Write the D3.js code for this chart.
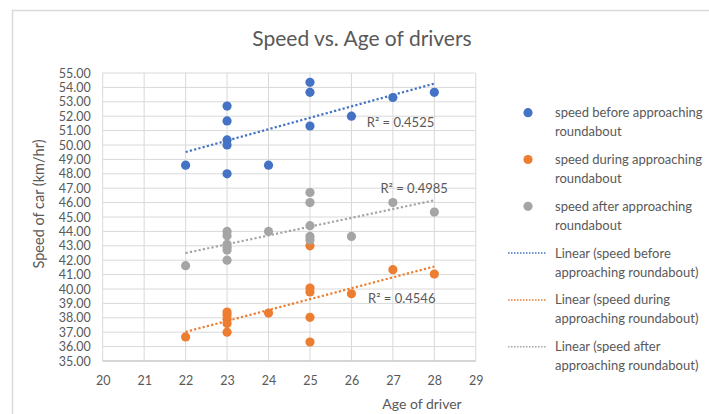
<!DOCTYPE html>
<html><head><meta charset="utf-8">
<script src="https://cdn.jsdelivr.net/npm/d3@7"></script>
<style>
body{margin:0;background:#fff;}
svg{display:block;font-family:Lato,"Open Sans",sans-serif;}
</style></head>
<body><svg id="c" width="709" height="414"></svg>
<script>
// ---- data ----
const xTicks = [20,21,22,23,24,25,26,27,28,29];
const yTicks = d3.range(35,55.01,1);
const beforeAge   = [22,23,23,23,23,23,24,25,25,25,26,27,28];
const beforeSpeed = [48.6,52.7,51.67,50.35,50.0,48.0,48.6,54.35,53.66,51.32,52.0,53.3,53.66];
const duringAge   = [22,23,23,23,23,23,24,25,25,25,25,25,26,27,28];
const duringSpeed = [36.67,38.4,38.2,37.9,37.6,37.0,38.33,43.0,40.07,39.8,38.03,36.32,39.67,41.34,41.04];
const afterAge    = [22,23,23,23,23,23,23,24,25,25,25,25,25,26,27,28];
const afterSpeed  = [41.62,44.0,43.7,43.1,42.9,42.7,42.0,44.0,46.7,46.0,44.4,43.65,43.4,43.65,46.0,45.34];
const seriesNames = ["speed before approaching roundabout","speed during approaching roundabout","speed after approaching roundabout"];
const r2Labels = ["R² = 0.4525","R² = 0.4546","R² = 0.4985"];
const r2Pos = [[26.37,51.55],[26.4,39.35],[26.7,47.0]];

const colors = ["#4472C4","#ED7D31","#A5A5A5"];
const series = [
  {name:seriesNames[0], xs:beforeAge, ys:beforeSpeed},
  {name:seriesNames[1], xs:duringAge, ys:duringSpeed},
  {name:seriesNames[2], xs:afterAge, ys:afterSpeed}
];

const svg = d3.select("#c");
const txt = "#595959";

// chart border
svg.append("rect").attr("x",12.5).attr("y",10.5).attr("width",720).attr("height",420)
  .attr("fill","none").attr("stroke","#d9d9d9").attr("stroke-width",1.5);

const x = d3.scaleLinear().domain([20,29]).range([102.7,475.8]);
const y = d3.scaleLinear().domain([35,55]).range([361,73]);

// gridlines
const g = svg.append("g");
g.selectAll(".hg").data(yTicks).join("line")
  .attr("x1",x(20)).attr("x2",x(29)).attr("y1",d=>y(d)).attr("y2",d=>y(d))
  .attr("stroke","#d9d9d9").attr("stroke-width",1);
g.selectAll(".vg").data(xTicks).join("line")
  .attr("y1",y(35)).attr("y2",y(55)).attr("x1",d=>x(d)).attr("x2",d=>x(d))
  .attr("stroke","#d9d9d9").attr("stroke-width",1);
g.append("line").attr("x1",x(20)).attr("x2",x(29)).attr("y1",y(35)).attr("y2",y(35))
  .attr("stroke","#bfbfbf").attr("stroke-width",1);

// axes labels
const yAxis = d3.axisLeft(y).tickValues(yTicks).tickFormat(d3.format(".2f")).tickSize(0).tickPadding(12);
const ya = svg.append("g").attr("transform",`translate(${x(20)},0)`).call(yAxis);
ya.select(".domain").remove();
ya.selectAll("text").attr("fill",txt).style("font-size","12.5px").style("font-family","Lato");

const xAxis = d3.axisBottom(x).tickValues(xTicks).tickFormat(d3.format("d")).tickSize(0).tickPadding(15);
const xa = svg.append("g").attr("transform",`translate(0,${y(35)})`).call(xAxis);
xa.select(".domain").remove();
xa.selectAll("text").attr("fill",txt).style("font-size","12.5px").style("font-family","Lato");

// trendlines (least squares)
function fit(xs,ys){
  const mx=d3.mean(xs), my=d3.mean(ys);
  let sxy=0,sxx=0;
  xs.forEach((v,i)=>{sxy+=(v-mx)*(ys[i]-my); sxx+=(v-mx)*(v-mx);});
  const b=sxy/sxx; return {a:my-b*mx,b};
}

// points
series.forEach((s,i)=>{
  svg.append("g").selectAll("circle").data(s.xs.map((v,j)=>[v,s.ys[j]])).join("circle")
    .attr("cx",d=>x(d[0])).attr("cy",d=>y(d[1])).attr("r",4.6).attr("fill",colors[i]);
});
series.forEach((s,i)=>{
  const f=fit(s.xs,s.ys);
  const x0=d3.min(s.xs), x1=d3.max(s.xs);
  svg.append("line").attr("x1",x(x0)).attr("x2",x(x1))
    .attr("y1",y(f.a+f.b*x0)).attr("y2",y(f.a+f.b*x1))
    .attr("stroke",colors[i]).attr("stroke-width",2.2).attr("stroke-dasharray","2.2,2.2");
});

// R² labels
r2Labels.forEach((t,i)=>{
  svg.append("text").attr("x",x(r2Pos[i][0])).attr("y",y(r2Pos[i][1])+4.5)
    .attr("fill",txt).style("font-size","13px").text(t);
});

// title
svg.append("text").attr("x",362).attr("y",46).attr("text-anchor","middle")
  .attr("fill",txt).style("font-size","21px").text("Speed vs. Age of drivers");

// axis titles
svg.append("text").attr("transform","translate(44,204) rotate(-90)").attr("text-anchor","middle")
  .attr("fill",txt).style("font-size","14.5px").text("Speed of car (km/hr)");
svg.append("text").attr("x",422).attr("y",409).attr("text-anchor","middle")
  .attr("fill",txt).style("font-size","14px").text("Age of driver");

// legend
const leg = svg.append("g");
const legItems = [
  {type:"dot",c:colors[0],lines:["speed before approaching","roundabout"]},
  {type:"dot",c:colors[1],lines:["speed during approaching","roundabout"]},
  {type:"dot",c:colors[2],lines:["speed after approaching","roundabout"]},
  {type:"line",c:colors[0],lines:["Linear (speed before","approaching roundabout)"]},
  {type:"line",c:colors[1],lines:["Linear (speed during","approaching roundabout)"]},
  {type:"line",c:colors[2],lines:["Linear (speed after","approaching roundabout)"]}
];
legItems.forEach((it,i)=>{
  const cy = 112.7 + i*46.8;
  if(it.type==="dot"){
    leg.append("circle").attr("cx",528).attr("cy",cy).attr("r",4.6).attr("fill",it.c);
  } else {
    leg.append("line").attr("x1",508).attr("x2",547).attr("y1",cy).attr("y2",cy)
      .attr("stroke",it.c).attr("stroke-width",1.5).attr("stroke-dasharray","1.5,1.5");
  }
  it.lines.forEach((l,k)=>{
    leg.append("text").attr("x",555).attr("y",cy+4.5+k*19).attr("fill",txt)
      .style("font-size","13px").text(l);
  });
});
</script></body></html>
